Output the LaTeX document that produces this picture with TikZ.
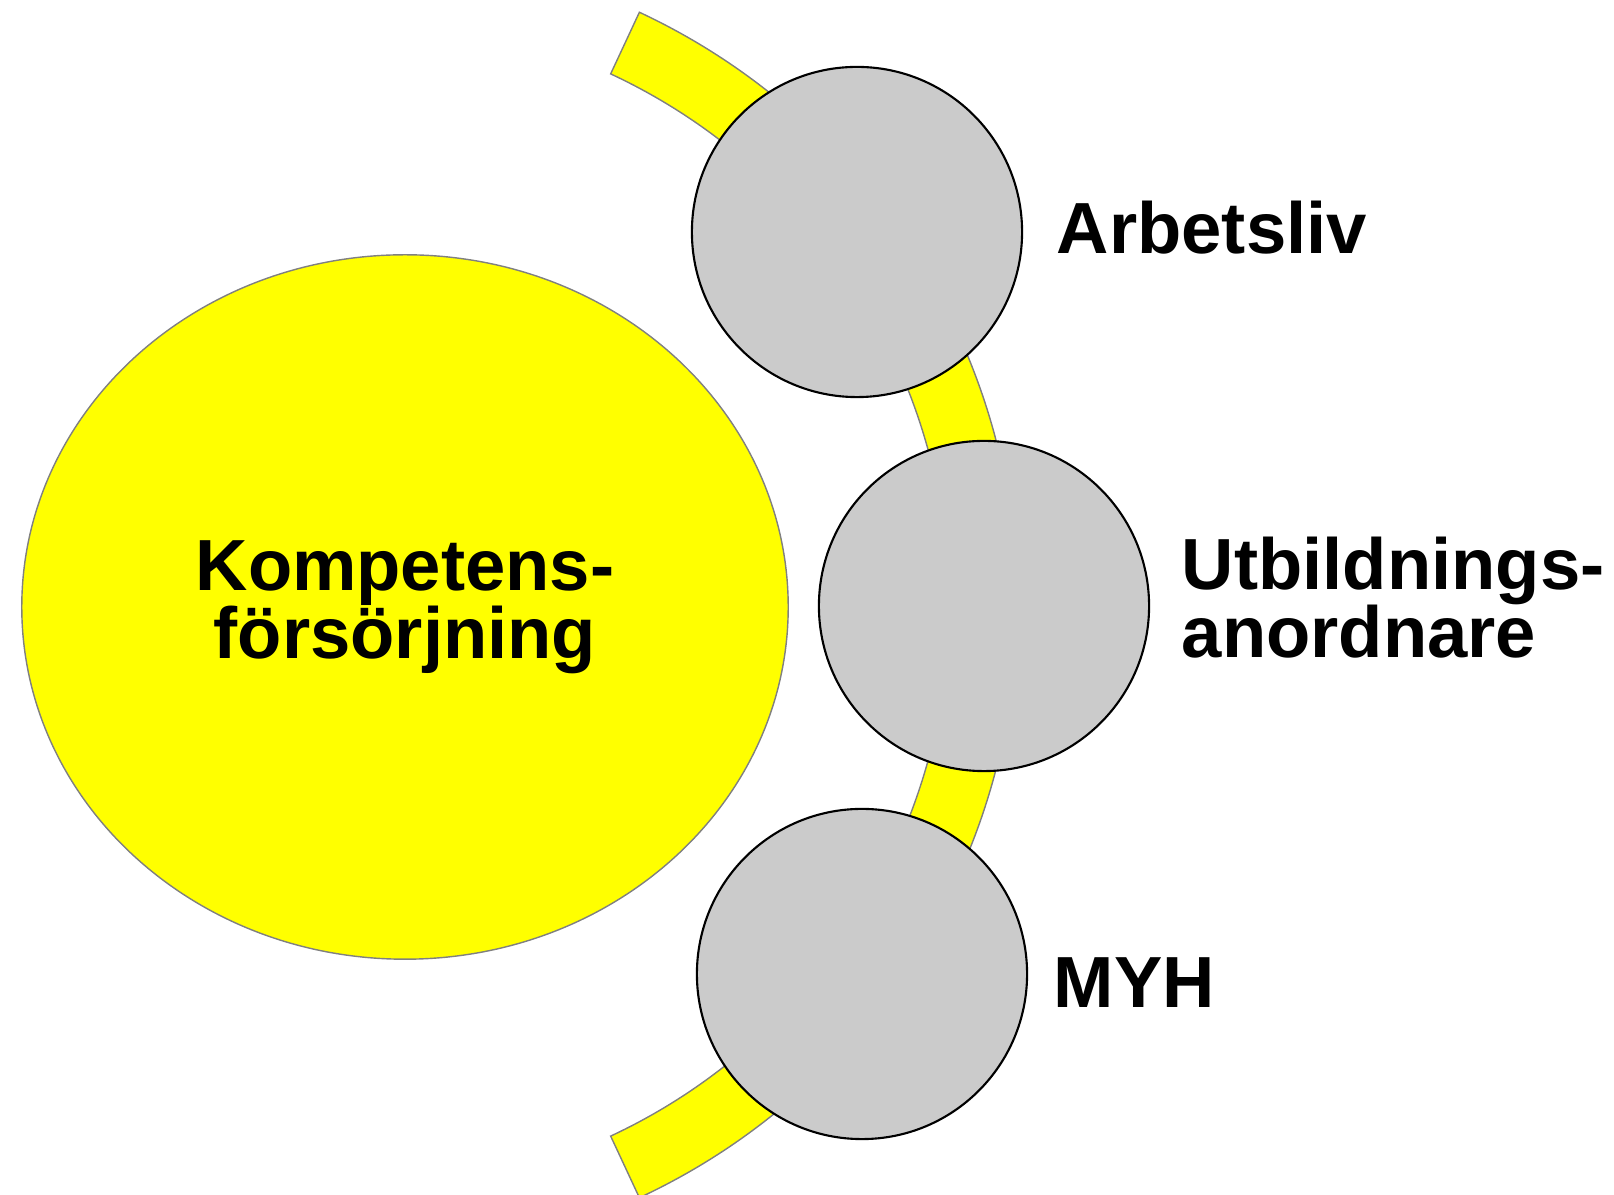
\documentclass[tikz,border=0pt]{standalone}
\usepackage{fontspec}
\setmainfont{Liberation Sans}
\usetikzlibrary{positioning,shapes.geometric}
\definecolor{discgray}{HTML}{CBCBCB}
\definecolor{sunyellow}{RGB}{255,255,0}

\begin{document}
\begin{tikzpicture}[
	x=0.01cm, y=-0.01cm,
	bigfont/.style={font=\fontsize{20.6pt}{19.3pt}\selectfont\bfseries},
	disc/.style={circle, draw=black, line width=0.6pt, fill=discgray, minimum size=3.3cm, inner sep=0pt},
	lbl/.style={bigfont, inner sep=0pt, align=left},
	node distance=0.3cm]
\useasboundingbox (0,0) rectangle (1614,1195);
% yellow band behind the discs
\begin{scope}[shift={(363,605)}]
	\filldraw[fill=sunyellow, draw=gray, line width=0.4pt]
		(-65:586) arc[start angle=-65, end angle=65, radius=586]
		-- (65:654) arc[start angle=65, end angle=-65, radius=654] -- cycle;
\end{scope}
\node[ellipse, draw=gray, line width=0.4pt, fill=sunyellow, minimum width=7.66cm, minimum height=7.04cm,
	inner sep=0pt, bigfont, align=center] (komp) at (405,607) {Kompetens-\\försörjning};
\node[disc] (arb) at (857,232) {};
\node[disc] (utb) at (984,606) {};
\node[disc] (myh) at (862,974) {};
\node[lbl, right=0.33cm of arb, yshift=0.04cm] (arbl) {Arbetsliv};
\node[lbl, right=0.31cm of utb, yshift=0.08cm] (utbl) {Utbildnings-\\anordnare};
\node[lbl, right=0.25cm of myh, yshift=-0.09cm] (myhl) {MYH};
\end{tikzpicture}
\end{document}
